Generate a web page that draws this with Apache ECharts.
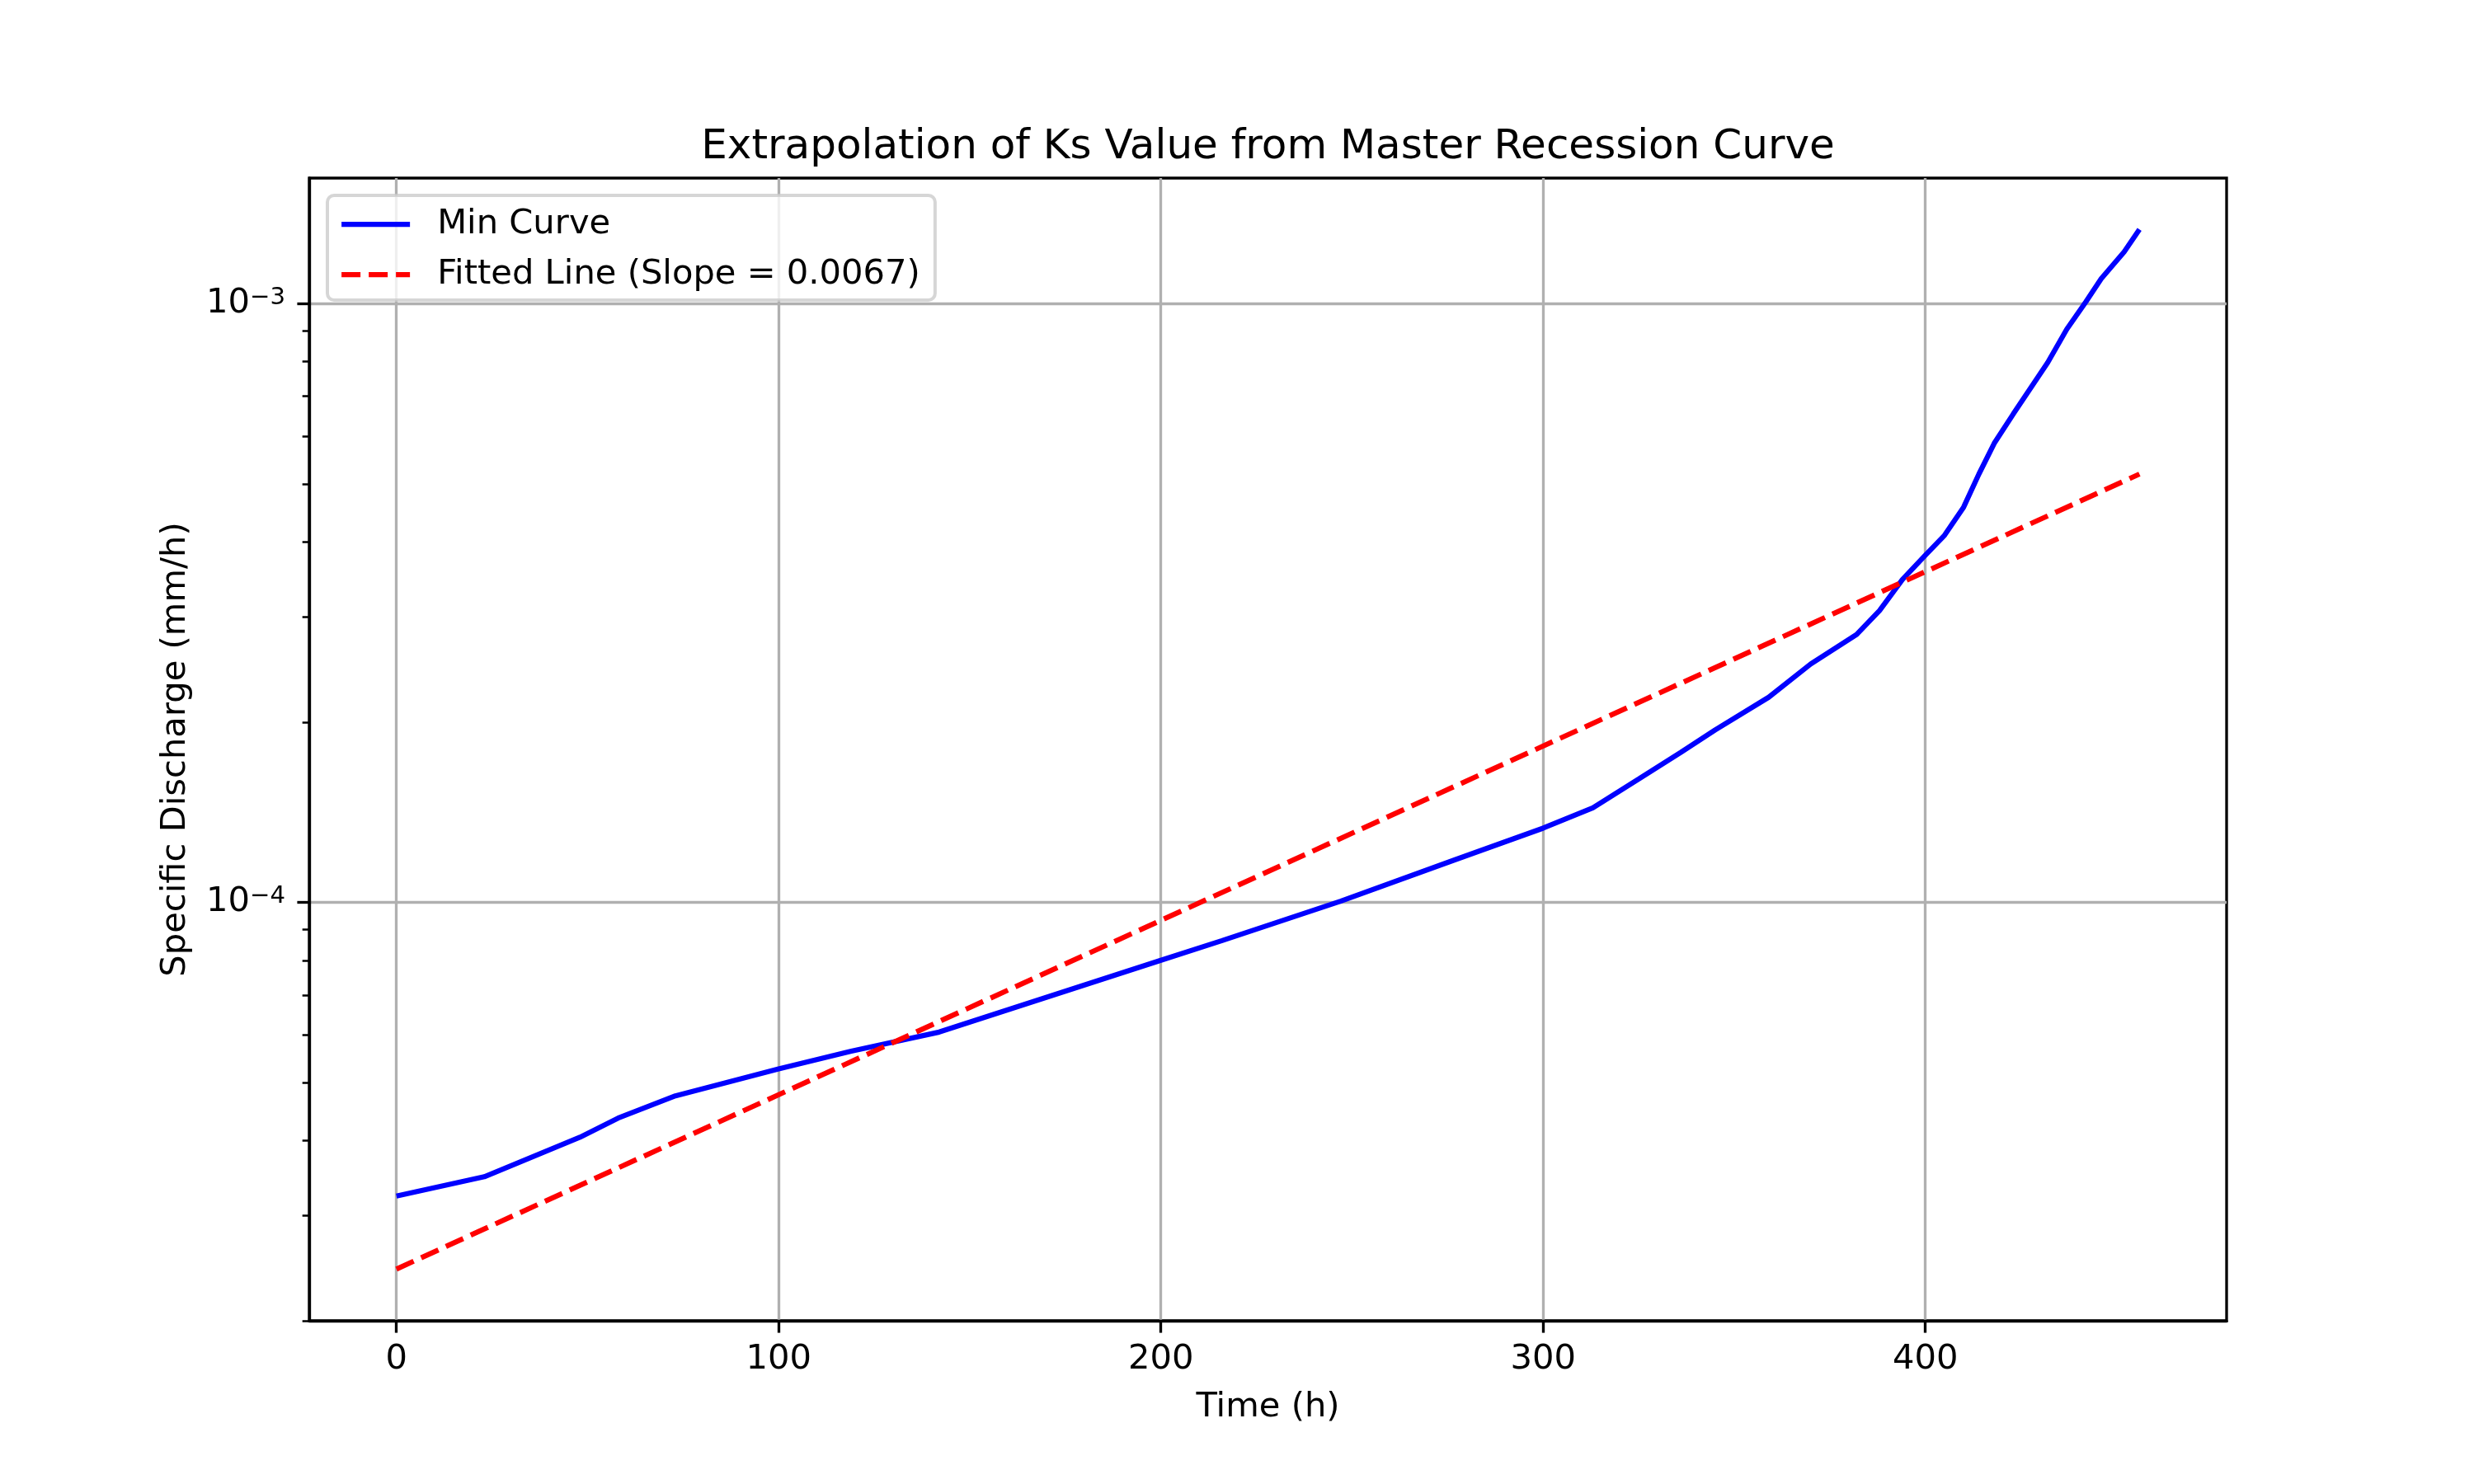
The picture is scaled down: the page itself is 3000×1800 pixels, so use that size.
<!DOCTYPE html>
<html>
<head>
  <meta charset="UTF-8" />
  <title>Extrapolation of Ks Value from Master Recession Curve</title>
  <script src="https://cdn.jsdelivr.net/npm/echarts@6/dist/echarts.min.js"></script>
  <style>
    html, body { margin: 0; padding: 0; background: #fff; }
    #chart { width: 3000px; height: 1800px; }
  </style>
</head>
<body>
  <div id="chart"></div>
<script type="text/javascript">
  // time (h) and specific discharge (mm/h) of the min recession curve
  var timeH = [0, 23, 48, 58, 73, 100, 119, 142, 167, 200, 216, 247, 277, 300, 313, 325, 336, 345,
    359, 370, 382, 388, 394, 400, 405, 410, 414, 418, 423, 432, 437, 442, 446, 452, 456];
  var minQ = [3.23e-5, 3.48e-5, 4.05e-5, 4.36e-5, 4.75e-5, 5.27e-5, 5.64e-5, 6.07e-5, 6.84e-5, 8.0e-5,
    8.63e-5, 1.004e-4, 1.178e-4, 1.33e-4, 1.438e-4, 1.607e-4, 1.78e-4, 1.94e-4, 2.20e-4, 2.50e-4,
    2.80e-4, 3.07e-4, 3.46e-4, 3.80e-4, 4.10e-4, 4.57e-4, 5.19e-4, 5.84e-4, 6.54e-4, 7.97e-4,
    9.06e-4, 1.007e-3, 1.10e-3, 1.22e-3, 1.33e-3];

  // fitted line ends
  var fitT = [0, 456];
  var fitQ = [2.44e-5, 5.19e-4];

  // ticks
  var xTicks = [0, 100, 200, 300, 400];
  var yMajor = [1e-4, 1e-3];
  var yMinor = [2e-5, 3e-5, 4e-5, 5e-5, 6e-5, 7e-5, 8e-5, 9e-5,
    2e-4, 3e-4, 4e-4, 5e-4, 6e-4, 7e-4, 8e-4, 9e-4];

  var FONT = 'DejaVu Sans';
  var PX = 300 / 72; // pt -> px at 300 dpi

  function toPairs(xs, ys) {
    return xs.map(function (x, i) { return [x, ys[i]]; });
  }

  function powLabel(v) {
    var e = Math.round(Math.log10(v));
    return '{b|10}{s|' + (e < 0 ? '\u2212' : '') + Math.abs(e) + '}';
  }

  var myChart = echarts.init(document.getElementById('chart'));

  var option = {
    backgroundColor: '#fff',
    animation: false,
    title: {
      text: 'Extrapolation of Ks Value from Master Recession Curve',
      left: 1537.5,
      textAlign: 'center',
      top: 154,
      padding: 0,
      textStyle: { fontFamily: FONT, fontSize: 12 * PX, fontWeight: 'normal', color: '#000' }
    },
    grid: {
      left: 375, right: 300, top: 216, bottom: 198,
      show: true, borderColor: '#000', borderWidth: 0.8 * PX,
      containLabel: false
    },
    legend: {
      orient: 'vertical',
      left: 397, top: 237,
      padding: [14, 18, 10, 14],
      itemGap: 19,
      itemWidth: 83, itemHeight: 42,
      backgroundColor: 'rgba(255,255,255,0.8)',
      borderColor: 'rgba(204,204,204,0.8)',
      borderWidth: 4,
      borderRadius: 8,
      itemStyle: { opacity: 0 },
      lineStyle: { width: 1.5 * PX },
      textStyle: { fontFamily: FONT, fontSize: 10 * PX, color: '#000', padding: [0, 0, 0, 28] }
    },
    xAxis: {
      type: 'value',
      min: -22.8, max: 478.8,
      name: 'Time (h)',
      nameLocation: 'middle',
      nameGap: 84,
      nameTextStyle: { fontFamily: FONT, fontSize: 10 * PX, color: '#000' },
      axisLine: { show: true, onZero: false, lineStyle: { color: '#000', width: 0.8 * PX } },
      axisTick: { show: true, customValues: xTicks, length: 3.5 * PX, lineStyle: { color: '#000', width: 0.8 * PX } },
      axisLabel: { customValues: xTicks, margin: 26, fontFamily: FONT, fontSize: 10 * PX, color: '#000' },
      splitLine: { show: true, lineStyle: { color: '#b0b0b0', width: 0.8 * PX } }
    },
    yAxis: [{
      type: 'log',
      logBase: 10,
      min: 2.0e-5, max: 1.62e-3,
      position: 'left',
      name: 'Specific Discharge (mm/h)',
      nameLocation: 'middle',
      nameGap: 141,
      nameTextStyle: { fontFamily: FONT, fontSize: 10 * PX, color: '#000' },
      axisLine: { show: true, onZero: false, lineStyle: { color: '#000', width: 0.8 * PX } },
      axisTick: { show: true, customValues: yMajor, length: 3.5 * PX, lineStyle: { color: '#000', width: 0.8 * PX } },
      axisLabel: {
        customValues: yMajor,
        margin: 29,
        formatter: powLabel,
        rich: {
          b: { fontFamily: FONT, fontSize: 10 * PX, color: '#000' },
          s: { fontFamily: FONT, fontSize: 7 * PX, color: '#000', verticalAlign: 'top' }
        }
      },
      splitLine: { show: true, lineStyle: { color: '#b0b0b0', width: 0.8 * PX } }
    }, {
      // minor log ticks only
      type: 'log',
      logBase: 10,
      min: 2.0e-5, max: 1.62e-3,
      position: 'left',
      offset: 0,
      axisLine: { show: false, onZero: false },
      axisTick: { show: true, customValues: yMinor, length: 2 * PX, lineStyle: { color: '#000', width: 0.6 * PX } },
      axisLabel: { show: false },
      splitLine: { show: false }
    }],
    series: [{
      name: 'Min Curve',
      type: 'line',
      yAxisIndex: 0,
      data: toPairs(timeH, minQ),
      showSymbol: false,
      symbol: 'none',
      lineStyle: { color: '#0000ff', width: 1.5 * PX },
      itemStyle: { color: '#0000ff' },
      z: 3
    }, {
      name: 'Fitted Line (Slope = 0.0067)',
      type: 'line',
      yAxisIndex: 0,
      data: toPairs(fitT, fitQ),
      showSymbol: false,
      symbol: 'none',
      lineStyle: { color: '#ff0000', width: 1.5 * PX, type: [23, 10] },
      itemStyle: { color: '#ff0000' },
      z: 4
    }]
  };

  myChart.setOption(option);
</script>
</body>
</html>
